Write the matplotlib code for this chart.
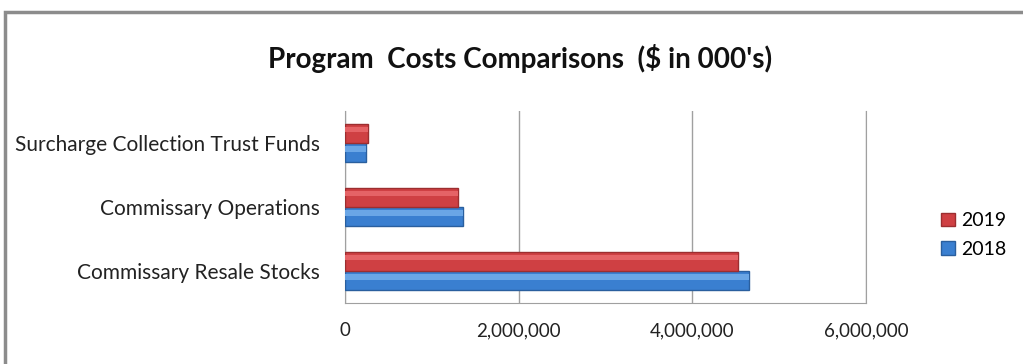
import numpy as np
import matplotlib.pyplot as plt
from matplotlib.patches import Rectangle

categories = ['Commissary Resale Stocks', 'Commissary Operations', 'Surcharge Collection Trust Funds']
costs_2018 = [4650000, 1360000, 240000]
costs_2019 = [4530000, 1300000, 265000]
xticks = [0, 2000000, 4000000, 6000000]

plt.rcParams['font.family'] = ['Lato', 'DejaVu Sans']

fig = plt.figure(figsize=(10.23, 3.64), dpi=100)
ax = fig.add_axes([0.3372, 0.1676, 0.5093, 0.5275])

# outer chart frame (only top/left visible in the crop)
fig.patches.append(Rectangle((5 / 1023, -0.1), 1.2, 1 - 12 / 364 + 0.1, transform=fig.transFigure,
                             fill=False, edgecolor='#8c8c8c', linewidth=2.5))

y = np.arange(len(categories))
h = 0.3
ax.barh(y - h / 2, costs_2018, height=h, color='#3a7fd0', edgecolor='#2a5f9e', linewidth=1, label='2018', zorder=3)
ax.barh(y + h / 2, costs_2019, height=h, color='#cf4043', edgecolor='#9c2e30', linewidth=1, label='2019', zorder=3)
# soft bevel highlight along the top of each bar
ax.barh(y - h / 2 + h * 0.2, costs_2018, height=h * 0.3, color='#6aa6e6', linewidth=0, zorder=4)
ax.barh(y + h / 2 + h * 0.2, costs_2019, height=h * 0.3, color='#e56366', linewidth=0, zorder=4)

ax.set_xlim(0, 6000000)
ax.set_ylim(-0.5, 2.5)
ax.set_xticks(xticks)
ax.set_xticklabels([f'{v:,}' for v in xticks])
ax.set_yticks(y)
ax.set_yticklabels(categories, fontsize=15)
ax.tick_params(length=0, colors='#222222')
ax.tick_params(axis='x', pad=14, labelsize=13.5)
ax.tick_params(axis='y', pad=18)
ax.grid(axis='x', color='#a0a0a0', linewidth=1, zorder=0)
for s in ['left', 'bottom', 'right']:
    ax.spines[s].set_color('#a0a0a0')
ax.spines['top'].set_visible(False)

handles, labels = ax.get_legend_handles_labels()
fig.legend(handles[::-1], labels[::-1], loc='center left', bbox_to_anchor=(0.903, 0.354),
           frameon=False, fontsize=14, handlelength=0.7, handleheight=0.7, handletextpad=0.3,
           labelspacing=0.6)

fig.text(0.508, 0.84, "Program  Costs Comparisons  ($ in 000's)", ha='center', va='center',
         fontsize=20, fontweight='bold', color='#111111')

fig.savefig('out.png', dpi=100)
